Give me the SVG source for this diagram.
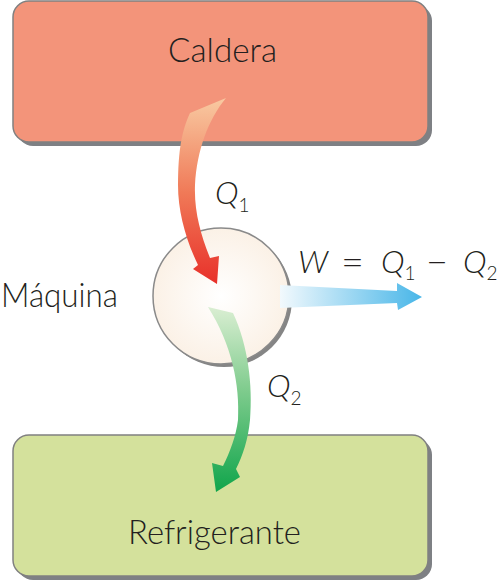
<svg xmlns="http://www.w3.org/2000/svg" width="500" height="583" viewBox="0 0 500 583">
<defs>
<style>
.lbl{font-family:Lato,"Open Sans","Liberation Sans",sans-serif;font-weight:300;fill:#231f20}
.big{font-size:34px}
.q{font-size:32px;font-style:italic}
.op{font-size:38px}
.sub{font-size:19px;font-style:normal}
.shadow{fill:#7e8084}
.box{stroke:#808080;stroke-width:1.5}
</style>
<linearGradient id="gRed" gradientUnits="userSpaceOnUse" x1="0" y1="100" x2="0" y2="284">
<stop offset="0" stop-color="#f8c8a0"/><stop offset="0.5" stop-color="#f07a58"/><stop offset="1" stop-color="#e8302a"/>
</linearGradient>
<linearGradient id="gGreen" gradientUnits="userSpaceOnUse" x1="0" y1="305" x2="0" y2="492">
<stop offset="0" stop-color="#dcefd4"/><stop offset="0.45" stop-color="#80cc8e"/><stop offset="1" stop-color="#10a54b"/>
</linearGradient>
<linearGradient id="gBlue" gradientUnits="userSpaceOnUse" x1="280" y1="0" x2="422" y2="0">
<stop offset="0" stop-color="#f2f9fd"/><stop offset="1" stop-color="#48b6e8"/>
</linearGradient>
<radialGradient id="gCirc" cx="0.5" cy="0.5" r="0.5">
<stop offset="0" stop-color="#ffffff"/><stop offset="1" stop-color="#fbf1e6"/>
</radialGradient>
</defs>
<rect width="500" height="583" fill="#ffffff"/>
<g id="caldera">
<rect class="shadow" x="17" y="5" width="415" height="141" rx="16"/>
<rect class="box" x="13" y="1" width="415" height="141" rx="16" fill="#f3947a"/>
<text class="lbl big" x="168" y="62" textLength="109" lengthAdjust="spacingAndGlyphs">Caldera</text>
</g>
<g id="refrigerante">
<rect class="shadow" x="17" y="439" width="415" height="141" rx="16"/>
<rect class="box" x="13" y="435" width="415" height="141" rx="16" fill="#d4e19c"/>
<text class="lbl big" x="128" y="544" textLength="173" lengthAdjust="spacingAndGlyphs">Refrigerante</text>
</g>
<g id="maquina">
<circle cx="224" cy="299" r="68" fill="#858585"/>
<circle cx="221" cy="296" r="68" fill="url(#gCirc)" stroke="#8a8a8a" stroke-width="1.5"/>
<text class="lbl big" x="1" y="307" textLength="117" lengthAdjust="spacingAndGlyphs">Máquina</text>
</g>
<g id="connectors">
<path id="q1" fill="url(#gRed)" d="M190,113 L226,98 C208,120 197,150 195,185 C194,212 201,235 210,258 L219,256 L217,284 L193,269 L198,265 C186,240 178,212 178,185 C178,150 182,130 190,113 Z"/>
<path id="q2" fill="url(#gGreen)" d="M208,307 L233,313 C248,345 253,385 250,420 C248,440 243,455 236,469 L240,477 L216,492 L212,463 L223,466 C230,452 236,436 238,420 C240,385 232,345 208,307 Z"/>
<path id="w" fill="url(#gBlue)" d="M280,285 L397,291 L397,283 L422,297 L398,310 L397,303 L280,308 Z"/>
</g>
<g id="labels">
<text class="lbl q" x="215" y="204">Q<tspan class="sub" dy="8">1</tspan></text>
<text class="lbl q" x="267" y="397">Q<tspan class="sub" dy="8">2</tspan></text>
<text class="lbl q" x="298" y="273">W</text>
<text class="lbl op" x="341" y="275" textLength="23" lengthAdjust="spacingAndGlyphs">=</text>
<text class="lbl q" x="381" y="273">Q<tspan class="sub" dy="7">1</tspan></text>
<text class="lbl op" x="426" y="275" textLength="22" lengthAdjust="spacingAndGlyphs">−</text>
<text class="lbl q" x="463" y="273">Q<tspan class="sub" dy="7" font-size="18">2</tspan></text>
</g>
</svg>
